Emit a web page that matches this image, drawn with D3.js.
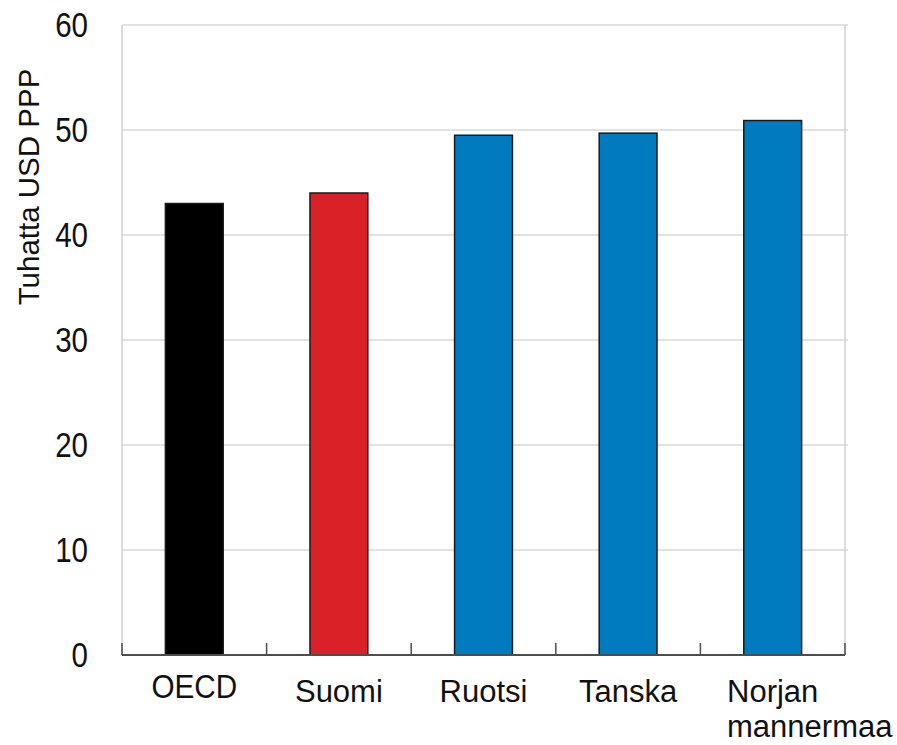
<!DOCTYPE html>
<html><head><meta charset="utf-8">
<script src="https://cdn.jsdelivr.net/npm/d3@7"></script>
<style>body{margin:0;background:#fff}</style>
</head><body>
<svg id="c" width="897" height="745"></svg>
<script>
const categories = ["OECD","Suomi","Ruotsi","Tanska","Norjan mannermaa"];
const values = [43.0, 44.0, 49.5, 49.7, 50.9];
const colors = ["#000000","#da2128","#007bc0","#007bc0","#007bc0"];
const yTicks = [0,10,20,30,40,50,60];
const yTitle = "Tuhatta USD PPP";

const svg = d3.select("#c");
const m = {l:122, t:25, r:845, b:655};
const x = d3.scaleBand().domain(categories).range([m.l, m.r]).paddingInner(0.6).paddingOuter(0.3);
const y = d3.scaleLinear().domain([0,60]).range([m.b, m.t]);

// gridlines
svg.append("g").selectAll("line").data(yTicks.filter(d=>d>0)).join("line")
  .attr("x1", m.l).attr("x2", m.r+3).attr("y1", d=>y(d)).attr("y2", d=>y(d))
  .attr("stroke","#d9d9d9").attr("stroke-width",1.5);
// left and right borders
svg.append("line").attr("x1",m.l).attr("x2",m.l).attr("y1",m.t).attr("y2",m.b).attr("stroke","#d0d0d0").attr("stroke-width",1.5);
svg.append("line").attr("x1",m.r).attr("x2",m.r).attr("y1",m.t).attr("y2",m.b).attr("stroke","#d0d0d0").attr("stroke-width",1.5);

// bars
svg.append("g").selectAll("rect").data(categories).join("rect")
  .attr("x", d=>x(d)).attr("width", x.bandwidth())
  .attr("y", (d,i)=>y(values[i])).attr("height",(d,i)=>y(0)-y(values[i]))
  .attr("fill",(d,i)=>colors[i]).attr("stroke","#1a1a1a").attr("stroke-width",1.5);

// y axis labels (condensed look)
const sx = 0.82;
const ya = svg.append("g").attr("transform",`translate(${m.l},0)`)
  .call(d3.axisLeft(y).tickValues(yTicks).tickSize(0).tickPadding(34));
ya.select(".domain").remove();
ya.selectAll("text").attr("font-family","'Liberation Sans',Arial,sans-serif")
  .attr("font-size",36).attr("fill","#111").attr("dy","0.33em")
  .attr("x", -34/sx).attr("transform",`scale(${sx},1)`);

// x axis baseline and boundary ticks
const bounds = d3.range(categories.length+1).map(i=>m.l + i*(m.r-m.l)/categories.length);
svg.append("line").attr("x1",m.l).attr("x2",m.r).attr("y1",m.b).attr("y2",m.b).attr("stroke","#4d4d4d").attr("stroke-width",2);
svg.append("g").selectAll("line").data(bounds).join("line")
  .attr("x1",d=>d).attr("x2",d=>d).attr("y1",m.b).attr("y2",m.b-12).attr("stroke","#4d4d4d").attr("stroke-width",1.5);

// x labels
const xl = svg.append("g");
categories.forEach((c,i)=>{
  const cx = x(c)+x.bandwidth()/2;
  const words = c.split(" ");
  if(c==="OECD"){
    const s = 0.9;
    xl.append("text").attr("y",698).attr("x",cx/s).attr("transform",`scale(${s},1)`)
      .attr("text-anchor","middle").attr("fill","#111")
      .attr("font-family","'Liberation Sans',Arial,sans-serif").attr("font-size",33).text(c);
    return;
  }
  const t = xl.append("text").attr("y",702).attr("fill","#111")
    .attr("font-family","'Liberation Sans',Arial,sans-serif").attr("font-size",31);
  if(words.length===1){
    t.attr("x",cx).attr("text-anchor","middle").text(c);
  } else {
    const s1 = t.append("tspan").text(words[0]);
    const w = s1.node().getComputedTextLength();
    const x0 = cx - w/2;
    s1.attr("x",x0);
    t.append("tspan").attr("x",x0).attr("dy",35).text(words.slice(1).join(" "));
  }
});

// y title
svg.append("text").attr("transform","translate(39,187) rotate(-90)")
  .attr("text-anchor","middle").attr("font-family","'Liberation Sans',Arial,sans-serif")
  .attr("font-size",29.5).attr("fill","#111").text(yTitle);
</script>
</body></html>
